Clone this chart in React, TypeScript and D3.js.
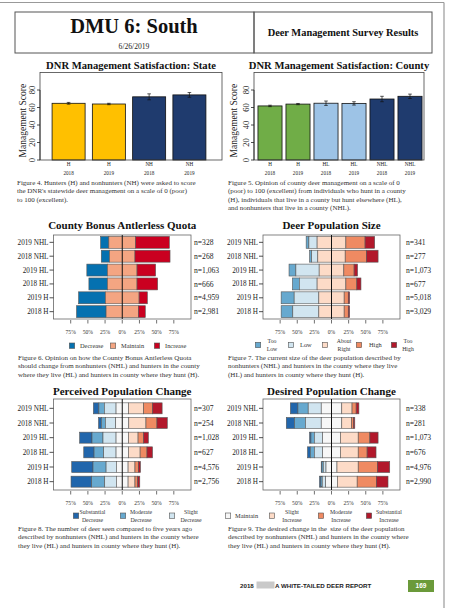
import React from 'react';
import * as d3 from 'd3';

const serif = '"Liberation Serif", "Times New Roman", serif';
const sans = '"Liberation Sans", Arial, sans-serif';

// Figure 4 - statewide satisfaction
const stateGroups = ['H', 'H', 'NH', 'NH'];
const stateYears = ['2018', '2019', '2018', '2019'];
const stateScores = [64.8, 64.0, 72.2, 74.4];
const stateErrors = [1.0, 0.8, 3.4, 2.7];
const stateColors = ['#ffc000', '#ffc000', '#1f3b6e', '#1f3b6e'];

// Figure 5 - county satisfaction
const countyGroups = ['H', 'H', 'HL', 'HL', 'NHL', 'NHL'];
const countyYears = ['2018', '2019', '2018', '2019', '2018', '2019'];
const countyScores = [61.8, 63.9, 64.9, 64.7, 69.7, 72.8];
const countyErrors = [0.8, 0.7, 2.5, 1.9, 3.1, 2.5];
const countyColors = ['#70ad47', '#70ad47', '#9dc3e6', '#9dc3e6', '#1f3b6e', '#1f3b6e'];

const scoreTicks = [0, 20, 40, 60, 80];

// likert panels
const rowLabels = ['2019 NHL', '2018 NHL', '2019 HL', '2018 HL', '2019 H', '2018 H'];
const pctTicks = [-75, -50, -25, 0, 25, 50, 75];

const quotaLevels = ['Decrease', 'Maintain', 'Increase'];
const quotaColors = ['#0571b0', '#f4a582', '#ca0020'];
const quotaN = ['n=328', 'n=268', 'n=1,063', 'n=666', 'n=4,959', 'n=2,981'];
const quotaPct = [
  [12, 39, 49],
  [12, 37, 51],
  [30, 43, 27],
  [27, 43, 30],
  [39, 49, 12],
  [43, 47, 10],
];

const sizeLevels = ['Too Low', 'Low', 'About Right', 'High', 'Too High'];
const sizeColors = ['#67a9cf', '#d1e5f0', '#fddbc7', '#ef8a62', '#b2182b'];
const sizeN = ['n=341', 'n=277', 'n=1,073', 'n=677', 'n=5,018', 'n=3,029'];
const sizePct = [
  [4, 12, 42, 28, 14],
  [3, 9, 40, 31, 17],
  [10, 34, 36, 15, 5],
  [10, 26, 42, 16, 6],
  [19, 36, 37, 6, 2],
  [17, 38, 37, 6, 2],
];

const changeLevels = ['Substantial Decrease', 'Moderate Decrease', 'Slight Decrease', 'Maintain', 'Slight Increase', 'Moderate Increase', 'Substantial Increase'];
const changeColors = ['#2166ac', '#67a9cf', '#d1e5f0', '#f7f7f7', '#fddbc7', '#ef8a62', '#b2182b'];
const perceivedN = ['n=307', 'n=254', 'n=1,028', 'n=627', 'n=4,576', 'n=2,756'];
const perceivedPct = [
  [8, 8, 17, 18, 22, 13, 14],
  [4, 6, 15, 19, 25, 16, 15],
  [18, 16, 19, 18, 14, 8, 7],
  [15, 14, 18, 18, 17, 10, 8],
  [31, 19, 15, 17, 10, 5, 3],
  [30, 19, 17, 17, 10, 4, 3],
];
const desiredN = ['n=338', 'n=281', 'n=1,073', 'n=676', 'n=4,976', 'n=2,990'];
const desiredPct = [
  [11, 15, 19, 30, 15, 6, 4],
  [12, 16, 23, 30, 14, 3, 2],
  [2, 5, 12, 26, 26, 17, 12],
  [4, 6, 12, 26, 26, 13, 13],
  [1, 2, 4, 16, 31, 28, 18],
  [2, 2, 5, 17, 29, 28, 17],
];

const fig4 = [
  'Figure 4. Hunters (H) and nonhunters (NH) were asked to score',
  "the DNR's statewide deer management on a scale of 0 (poor)",
  'to 100 (excellent).',
];
const fig5 = [
  'Figure 5. Opinion of county deer management on a scale of 0',
  '(poor) to 100 (excellent) from individuals who hunt in a county',
  '(H), individuals that live in a county but hunt elsewhere (HL),',
  'and nonhunters that live in a county (NHL).',
];
const fig6 = [
  'Figure 6. Opinion on how the County Bonus Antlerless Quota',
  'should change from nonhunters (NHL) and hunters in the county',
  'where they live (HL) and hunters in county where they hunt (H).',
];
const fig7 = [
  'Figure 7. The current size of the deer population described by',
  'nonhunters (NHL) and hunters in the county where they live',
  '(HL) and hunters in county where they hunt (H).',
];
const fig8 = [
  'Figure 8. The number of deer seen compared to five years ago',
  'described by nonhunters (NHL) and hunters in the county where',
  'they live (HL) and hunters in county where they hunt (H).',
];
const fig9 = [
  'Figure 9. The desired change in the  size of the deer population',
  'described by nonhunters (NHL) and hunters in the county where',
  'they live (HL) and hunters in county where they hunt (H).',
];

const BarPanel = ({ left, right, bandRange, padIn, padOut, title, groups, years, scores, errors, colors, labelOff }: any) => {
  const y = d3.scaleLinear().domain([0, 100]).range([160, 72.5]);
  const x = d3.scaleBand<number>().domain(d3.range(scores.length)).range(bandRange).paddingInner(padIn).paddingOuter(padOut);
  const bw = x.bandwidth();
  return (
    <g>
      <text x={(left + right) / 2} y={68.5} textAnchor="middle" fontFamily={serif} fontWeight="bold" fontSize={10.6} fill="#111">{title}</text>
      {scores.map((s: number, i: number) => {
        const cx = (x(i) as number) + bw / 2;
        return (
          <g key={i}>
            <rect x={x(i)} y={y(s)} width={bw} height={y(0) - y(s)} fill={colors[i]} stroke="#111" strokeWidth={0.8} />
            <line x1={cx} x2={cx} y1={y(s - errors[i])} y2={y(s + errors[i])} stroke="#111" strokeWidth={0.7} />
            <line x1={cx - 1.8} x2={cx + 1.8} y1={y(s - errors[i])} y2={y(s - errors[i])} stroke="#111" strokeWidth={0.7} />
            <line x1={cx - 1.8} x2={cx + 1.8} y1={y(s + errors[i])} y2={y(s + errors[i])} stroke="#111" strokeWidth={0.7} />
            <text x={cx} y={166} textAnchor="middle" fontFamily={serif} fontSize={5.2} fill="#222">{groups[i]}</text>
            <text x={cx} y={174.5} textAnchor="middle" fontFamily={serif} fontSize={5.2} fill="#222">{years[i]}</text>
          </g>
        );
      })}
      <rect x={left} y={y(100)} width={right - left} height={y(0) - y(100)} fill="none" stroke="#444" strokeWidth={0.8} />
      <line x1={left} x2={left} y1={y(0)} y2={y(80)} stroke="#222" strokeWidth={0.8} />
      {scoreTicks.map((t) => (
        <g key={t}>
          <line x1={left - 3} x2={left} y1={y(t)} y2={y(t)} stroke="#222" strokeWidth={0.8} />
          <text transform={`translate(${left - 8},${y(t)}) rotate(-90)`} dy="0.35em" textAnchor="middle" fontFamily={serif} fontSize={8.5} fill="#222">{t}</text>
        </g>
      ))}
      <text transform={`translate(${left - labelOff},${y(45)}) rotate(-90)`} dy="0.35em" textAnchor="middle" fontFamily={serif} fontSize={9.5} fill="#222">Management Score</text>
    </g>
  );
};

const LikertPanel = ({ xRange, boxTop, boxBottom, bandRange, padIn, padOut, title, titleY, pct, colors, nLabels, nX, tickY }: any) => {
  const x = d3.scaleLinear().domain([-100, 100]).range(xRange);
  const y = d3.scaleBand<string>().domain(rowLabels).range(bandRange).paddingInner(padIn).paddingOuter(padOut);
  const mid = (colors.length - 1) / 2;
  const bh = y.bandwidth();
  return (
    <g>
      <text x={x(0)} y={titleY} textAnchor="middle" fontFamily={serif} fontWeight="bold" fontSize={11} fill="#111">{title}</text>
      <rect x={xRange[0]} y={boxTop} width={xRange[1] - xRange[0]} height={boxBottom - boxTop} fill="#fff" stroke="#666" strokeWidth={0.8} />
      {pct.map((vals: number[], r: number) => {
        let start = -(d3.sum(vals.slice(0, mid)) + vals[mid] / 2);
        const yy = y(rowLabels[r]) as number;
        return (
          <g key={r}>
            {vals.map((v, k) => {
              const x0 = start;
              start += v;
              return <rect key={k} x={x(x0)} y={yy} width={x(x0 + v) - x(x0)} height={bh} fill={colors[k]} stroke="#555" strokeWidth={0.6} />;
            })}
            <line x1={xRange[0] - 4} x2={xRange[0]} y1={yy + bh / 2} y2={yy + bh / 2} stroke="#222" strokeWidth={0.8} />
            <text x={xRange[0] - 5} y={yy + bh / 2} dy="0.35em" textAnchor="end" fontFamily={serif} fontSize={7.2} fill="#222">{rowLabels[r]}</text>
            <text x={nX} y={yy + bh / 2} dy="0.35em" fontFamily={serif} fontSize={7.6} fill="#222">{nLabels[r]}</text>
          </g>
        );
      })}
      <line x1={x(0)} x2={x(0)} y1={boxTop} y2={boxBottom} stroke="#111" strokeWidth={1} />
      {pctTicks.map((t) => (
        <g key={t}>
          <line x1={x(t)} x2={x(t)} y1={boxBottom + 1} y2={boxBottom + 4.5} stroke="#333" strokeWidth={0.7} />
          <text x={x(t)} y={tickY} textAnchor="middle" fontFamily={serif} fontSize={5.6} fill="#333">{Math.abs(t) + '%'}</text>
        </g>
      ))}
    </g>
  );
};

const LegendItem = ({ sq, cy, color, lines, tx, anchor }: any) => (
  <g>
    <rect x={sq - 2.7} y={cy - 2.7} width={5.4} height={5.4} fill={color} stroke="#555" strokeWidth={0.6} />
    {lines.length === 1 ? (
      <text x={tx} y={cy} dy="0.35em" textAnchor={anchor} fontFamily={serif} fontSize={6.4} fill="#333">{lines[0]}</text>
    ) : (
      <g>
        <text x={tx} y={cy - 3.6} dy="0.35em" textAnchor={anchor} fontFamily={serif} fontSize={5.8} fill="#333">{lines[0]}</text>
        <text x={tx} y={cy + 3.8} dy="0.35em" textAnchor={anchor} fontFamily={serif} fontSize={5.8} fill="#333">{lines[1]}</text>
      </g>
    )}
  </g>
);

const Caption = ({ x, y, lines }: any) => (
  <g>
    {lines.map((l: string, i: number) => (
      <text key={i} x={x} y={y + i * 8.4} fontFamily={serif} fontSize={7} fill="#333" style={{ whiteSpace: 'pre' }}>{l}</text>
    ))}
  </g>
);

export default function App() {
  return (
    <svg width={462} height={608} viewBox="0 0 462 608" style={{ position: 'absolute', left: 0, top: 0, background: '#fff' }}>
      <rect x={0} y={0} width={462} height={608} fill="#fff" />
      <line x1={0} x2={444} y1={2.5} y2={2.5} stroke="#999" strokeWidth={1.2} />
      <line x1={444} x2={444} y1={2.5} y2={608} stroke="#999" strokeWidth={1.2} />

      {/* header */}
      <rect x={15} y={12} width={239} height={41} fill="none" stroke="#555" strokeWidth={1} />
      <rect x={254} y={12} width={178} height={41} fill="none" stroke="#555" strokeWidth={1} />
      <text x={134} y={33} textAnchor="middle" fontFamily={serif} fontWeight="bold" fontSize={20.5} fill="#111">DMU 6: South</text>
      <text x={134} y={49} textAnchor="middle" fontFamily={serif} fontSize={7.6} fill="#222">6/26/2019</text>
      <text x={343} y={35.5} textAnchor="middle" fontFamily={serif} fontWeight="bold" fontSize={10.4} fill="#111">Deer Management Survey Results</text>

      <BarPanel left={40} right={222} bandRange={[40, 218]} padIn={0.18} padOut={0.3}
        title="DNR Management Satisfaction: State" groups={stateGroups} years={stateYears}
        scores={stateScores} errors={stateErrors} colors={stateColors} labelOff={17} />
      <BarPanel left={254} right={424} bandRange={[256, 424]} padIn={0.14} padOut={0.07}
        title="DNR Management Satisfaction: County" groups={countyGroups} years={countyYears}
        scores={countyScores} errors={countyErrors} colors={countyColors} labelOff={20} />
      <Caption x={17} y={185} lines={fig4} />
      <Caption x={228} y={185} lines={fig5} />

      <LikertPanel xRange={[53.5, 191]} boxTop={235} boxBottom={319} bandRange={[235.4, 318.6]} padIn={0.14} padOut={0.07}
        title="County Bonus Antlerless Quota" titleY={229} pct={quotaPct} colors={quotaColors} nLabels={quotaN} nX={194} tickY={334} />
      <LikertPanel xRange={[263, 400]} boxTop={235} boxBottom={319} bandRange={[235.4, 318.6]} padIn={0.14} padOut={0.07}
        title="Deer Population Size" titleY={229} pct={sizePct} colors={sizeColors} nLabels={sizeN} nX={406} tickY={334} />

      {quotaLevels.map((l, i) => (
        <LegendItem key={l} sq={[72, 113, 157][i]} cy={345.7} color={quotaColors[i]} lines={[l]} tx={[80, 121, 165][i]} anchor="start" />
      ))}
      {sizeLevels.map((l, i) => {
        const parts = l.split(' ');
        return (
          <LegendItem key={l} sq={[258, 291, 325, 359, 394][i]} cy={345} color={sizeColors[i]} lines={parts}
            tx={[272, 300, 344, 369, 408][i]} anchor={parts.length > 1 ? 'middle' : 'start'} />
        );
      })}
      <Caption x={18} y={360} lines={fig6} />
      <Caption x={228} y={360} lines={fig7} />

      <LikertPanel xRange={[53.5, 191]} boxTop={399} boxBottom={490} bandRange={[401, 489]} padIn={0.25} padOut={0.125}
        title="Perceived Population Change" titleY={395} pct={perceivedPct} colors={changeColors} nLabels={perceivedN} nX={194} tickY={505} />
      <LikertPanel xRange={[263, 400]} boxTop={399} boxBottom={490} bandRange={[401, 489]} padIn={0.25} padOut={0.125}
        title="Desired Population Change" titleY={395} pct={desiredPct} colors={changeColors} nLabels={desiredN} nX={406} tickY={505} />

      {changeLevels.map((l, i) => {
        const parts = l === 'Maintain' ? [l] : l.split(' ');
        return (
          <LegendItem key={l} sq={[76, 123, 172, 228, 272, 321, 369][i]} cy={515.7} color={changeColors[i]} lines={parts}
            tx={[92.5, 141, 191, 235, 292, 341, 389][i]} anchor={parts.length > 1 ? 'middle' : 'start'} />
        );
      })}
      <Caption x={18} y={531} lines={fig8} />
      <Caption x={228} y={531} lines={fig9} />

      {/* footer */}
      <text x={240} y={587.5} fontFamily={sans} fontWeight="bold" fontSize={6.2} fill="#222">2018</text>
      <rect x={256.5} y={581.5} width={18} height={7} fill="#c9c9c9" />
      <text x={275} y={587.5} fontFamily={sans} fontWeight="bold" fontSize={6.2} fill="#222">A WHITE-TAILED DEER REPORT</text>
      <rect x={408} y={580} width={26} height={12} fill="#6b9a3a" />
      <text x={421} y={588.3} textAnchor="middle" fontFamily={sans} fontWeight="bold" fontSize={6.5} fill="#fff">169</text>
    </svg>
  );
}
